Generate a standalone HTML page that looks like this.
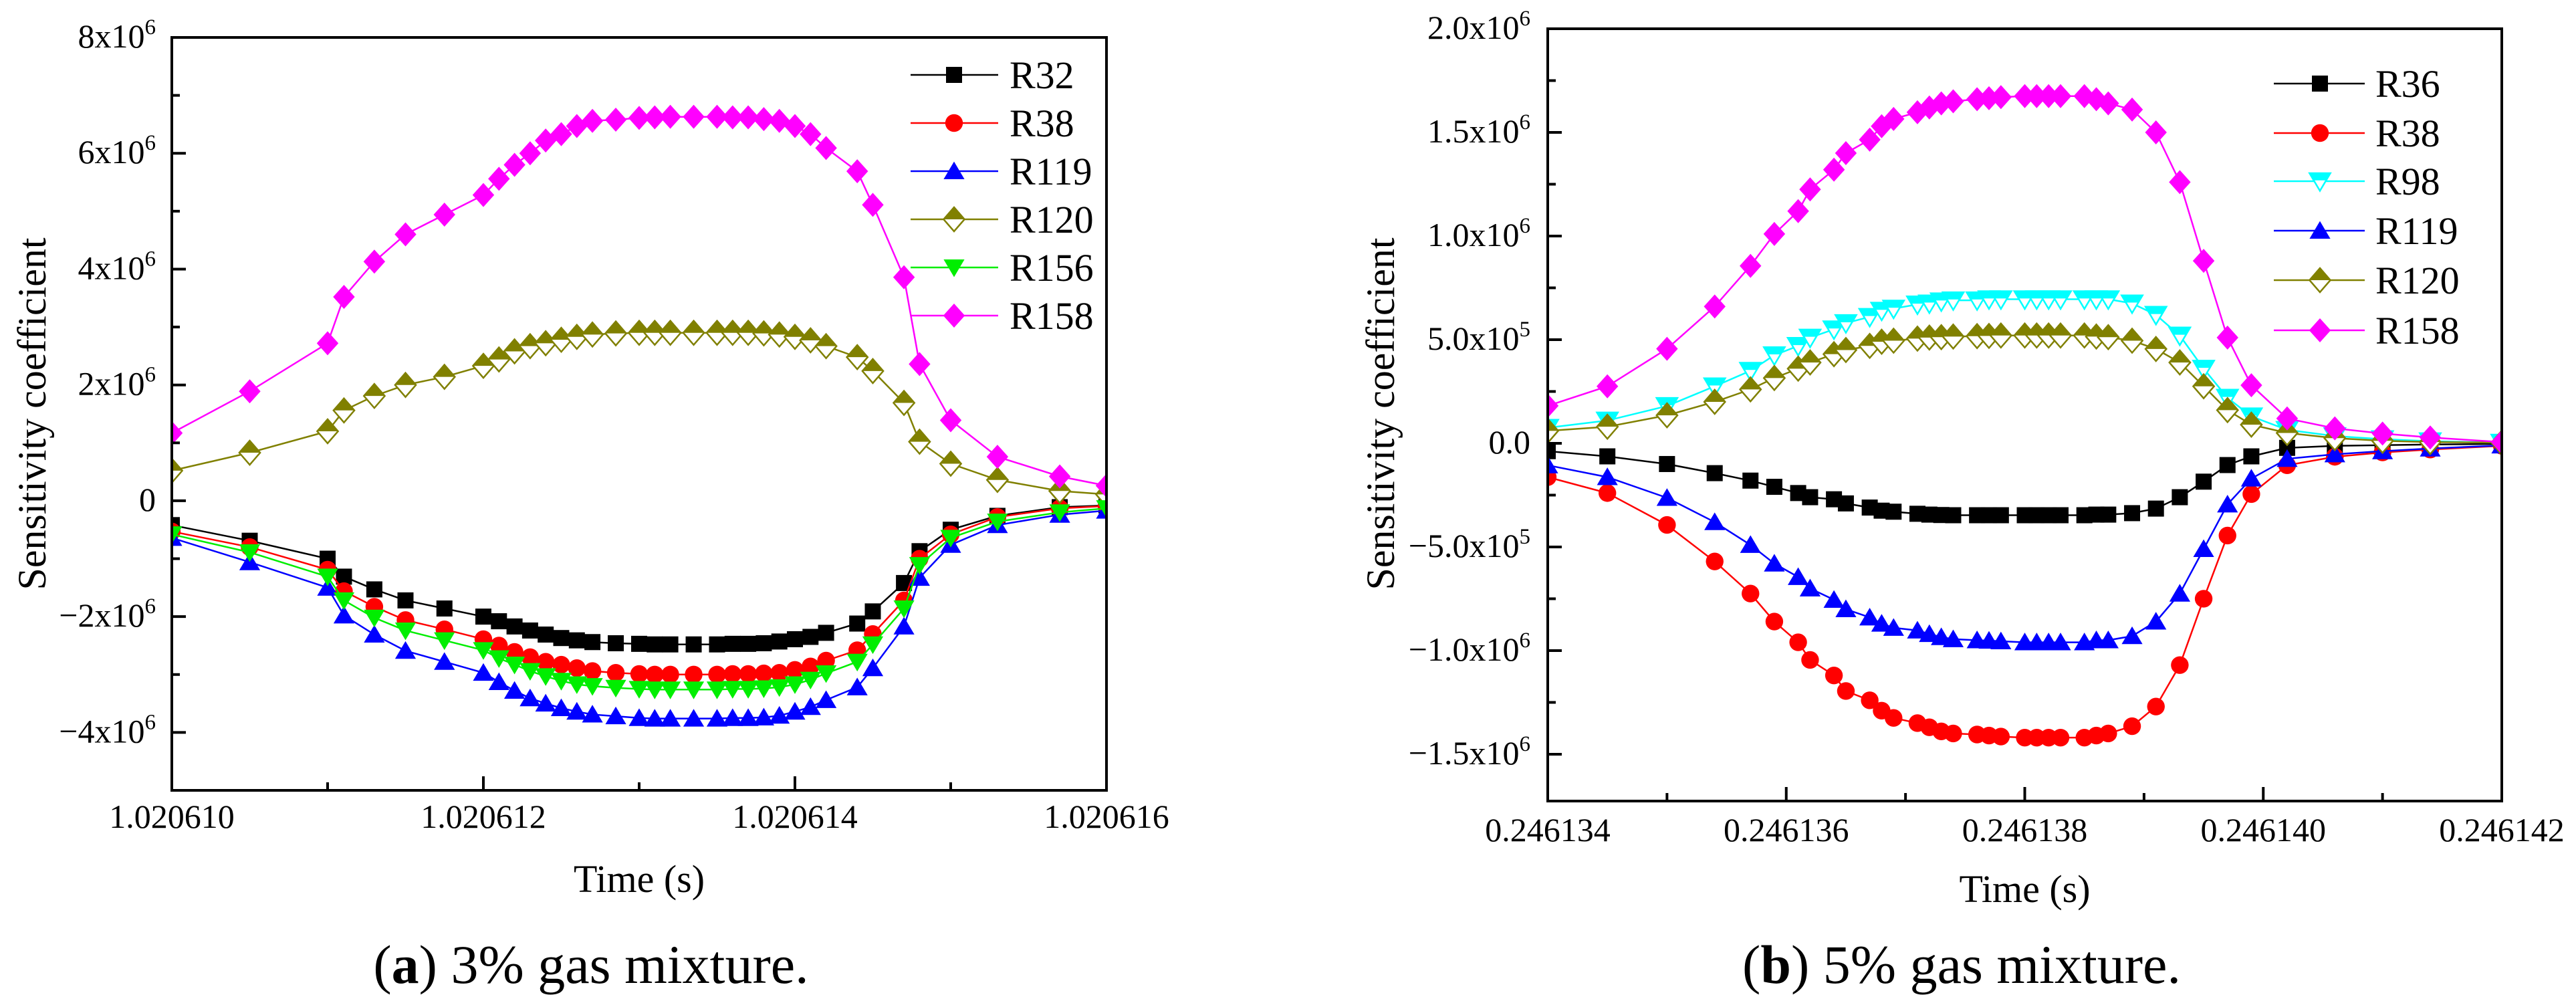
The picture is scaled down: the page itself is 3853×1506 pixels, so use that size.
<!DOCTYPE html>
<html><head><meta charset="utf-8"><style>
html,body{margin:0;padding:0;background:#fff;width:3853px;height:1506px;overflow:hidden}
svg{display:block}
text,tspan{font-family:"Liberation Serif","Times New Roman",serif;fill:#000}
</style></head><body>
<svg id="fig" width="3853" height="1506" viewBox="0 0 3853 1506" font-family="Liberation Serif, serif"></svg>
<script>
// ---------- Panel (a) data: time offset in 1e-6 s from 1.020610, values in 1e6 ----------
const timeA = [0,0.5,1.0,1.105,1.3,1.5,1.75,2.0,2.1,2.2,2.3,2.4,2.5,2.6,2.7,2.85,3.0,3.1,3.2,3.35,3.5,3.6,3.7,3.8,3.9,4.0,4.1,4.2,4.4,4.5,4.7,4.8,5.0,5.3,5.7,6.0];
const r32A  = [-0.42,-0.69,-1.0,-1.31,-1.53,-1.72,-1.86,-2.0,-2.08,-2.17,-2.24,-2.31,-2.37,-2.41,-2.44,-2.46,-2.47,-2.48,-2.48,-2.48,-2.48,-2.47,-2.47,-2.46,-2.43,-2.39,-2.35,-2.28,-2.12,-1.91,-1.42,-0.87,-0.5,-0.26,-0.11,-0.08];
const r38A  = [-0.53,-0.8,-1.19,-1.56,-1.83,-2.06,-2.22,-2.39,-2.5,-2.61,-2.7,-2.78,-2.83,-2.89,-2.94,-2.97,-2.99,-3.0,-3.0,-3.0,-3.0,-2.99,-2.99,-2.98,-2.97,-2.92,-2.86,-2.76,-2.58,-2.3,-1.72,-1.0,-0.58,-0.28,-0.13,-0.09];
const r119A = [-0.64,-1.06,-1.5,-1.98,-2.31,-2.59,-2.78,-2.97,-3.13,-3.28,-3.41,-3.5,-3.58,-3.64,-3.69,-3.72,-3.75,-3.76,-3.76,-3.76,-3.76,-3.75,-3.75,-3.74,-3.71,-3.64,-3.56,-3.44,-3.22,-2.89,-2.17,-1.33,-0.76,-0.42,-0.24,-0.17];
const r120A = [0.52,0.83,1.2,1.56,1.81,2.0,2.14,2.33,2.44,2.58,2.67,2.72,2.78,2.83,2.87,2.89,2.9,2.9,2.9,2.9,2.9,2.9,2.9,2.89,2.87,2.83,2.77,2.67,2.48,2.24,1.69,1.02,0.64,0.36,0.17,0.11];
const r156A = [-0.58,-0.89,-1.31,-1.72,-2.02,-2.24,-2.41,-2.58,-2.72,-2.83,-2.94,-3.03,-3.11,-3.17,-3.2,-3.23,-3.25,-3.26,-3.26,-3.26,-3.26,-3.25,-3.25,-3.24,-3.22,-3.17,-3.09,-2.98,-2.78,-2.48,-1.86,-1.11,-0.64,-0.36,-0.2,-0.13];
const r158A = [1.17,1.89,2.72,3.52,4.13,4.6,4.94,5.28,5.56,5.8,6.0,6.22,6.33,6.47,6.56,6.58,6.61,6.62,6.63,6.63,6.63,6.62,6.62,6.59,6.56,6.47,6.33,6.09,5.69,5.11,3.86,2.36,1.39,0.76,0.42,0.26];
const yTicksA = [8,6,4,2,0,-2,-4];
const xTicksA = ["1.020610","1.020612","1.020614","1.020616"];

// ---------- Panel (b) data: time offset in 1e-6 s from 0.246134, values in 1e5 ----------
const timeB = [0,0.5,1.0,1.4,1.7,1.9,2.1,2.2,2.4,2.5,2.7,2.8,2.9,3.1,3.2,3.3,3.4,3.6,3.7,3.8,4.0,4.1,4.2,4.3,4.5,4.6,4.7,4.9,5.1,5.3,5.5,5.7,5.9,6.2,6.6,7.0,7.4,8.0];
const r36B  = [-0.38,-0.63,-1.0,-1.44,-1.8,-2.1,-2.4,-2.6,-2.7,-2.9,-3.1,-3.25,-3.3,-3.4,-3.44,-3.46,-3.47,-3.47,-3.47,-3.47,-3.47,-3.47,-3.47,-3.47,-3.47,-3.44,-3.44,-3.37,-3.15,-2.6,-1.85,-1.05,-0.63,-0.22,-0.12,-0.09,-0.06,-0.03];
const r38B  = [-1.63,-2.4,-3.94,-5.7,-7.25,-8.6,-9.6,-10.45,-11.2,-11.95,-12.4,-12.9,-13.25,-13.5,-13.7,-13.9,-14.0,-14.05,-14.1,-14.15,-14.2,-14.2,-14.2,-14.2,-14.2,-14.1,-14.0,-13.65,-12.7,-10.7,-7.5,-4.45,-2.45,-1.06,-0.65,-0.44,-0.3,-0.12];
const r98B  = [0.75,1.1,1.8,2.75,3.5,4.25,4.7,5.1,5.5,5.8,6.1,6.4,6.5,6.7,6.75,6.85,6.9,6.9,6.95,6.95,6.95,6.95,6.95,6.95,6.95,6.95,6.95,6.75,6.2,5.2,3.6,2.2,1.3,0.65,0.35,0.2,0.1,0.03];
const r119B = [-1.06,-1.63,-2.63,-3.8,-4.9,-5.8,-6.45,-7.0,-7.55,-8.0,-8.4,-8.7,-8.9,-9.03,-9.2,-9.35,-9.45,-9.5,-9.52,-9.55,-9.6,-9.6,-9.6,-9.6,-9.6,-9.5,-9.5,-9.3,-8.6,-7.25,-5.1,-2.95,-1.7,-0.75,-0.53,-0.38,-0.25,-0.1];
const r120B = [0.6,0.8,1.35,2.0,2.6,3.15,3.6,3.9,4.3,4.5,4.7,4.9,4.95,5.05,5.1,5.12,5.15,5.17,5.18,5.2,5.2,5.2,5.2,5.2,5.2,5.15,5.12,4.95,4.55,3.9,2.75,1.6,0.9,0.5,0.25,0.12,0.06,0.03];
const r158B = [1.81,2.75,4.56,6.6,8.56,10.1,11.2,12.25,13.2,14.0,14.65,15.3,15.65,15.97,16.2,16.4,16.5,16.6,16.65,16.7,16.75,16.75,16.75,16.75,16.75,16.6,16.4,16.1,15.0,12.6,8.8,5.1,2.8,1.2,0.72,0.47,0.28,0.06];
const yTicksB = [20,15,10,5,0,-5,-10,-15];
const yTickLabelsB = ["2.0x10|6","1.5x10|6","1.0x10|6","5.0x10|5","0.0","−5.0x10|5","−1.0x10|6","−1.5x10|6"];
const xTicksB = ["0.246134","0.246136","0.246138","0.246140","0.246142"];

const NS = "http://www.w3.org/2000/svg";
const fig = document.getElementById('fig');
const defs = document.createElementNS(NS,'defs');
fig.appendChild(defs);
function mk(tag, attrs, parent){
  const e = document.createElementNS(NS, tag);
  for (const k in attrs) e.setAttribute(k, attrs[k]);
  (parent||fig).appendChild(e);
  return e;
}

function marker(g, shape, color, cx, cy, s){
  let e;
  if (shape==='square'){
    e = mk('rect',{x:cx-s,y:cy-s,width:2*s,height:2*s,fill:color},g);
  } else if (shape==='circle'){
    e = mk('circle',{cx:cx,cy:cy,r:s*1.1,fill:color},g);
  } else if (shape==='up'){
    e = mk('polygon',{points:`${cx},${cy-s*1.2} ${cx+s*1.3},${cy+s*1.0} ${cx-s*1.3},${cy+s*1.0}`,fill:color},g);
  } else if (shape==='down'){
    e = mk('polygon',{points:`${cx},${cy+s*1.2} ${cx+s*1.3},${cy-s*1.0} ${cx-s*1.3},${cy-s*1.0}`,fill:color},g);
  } else if (shape==='diamond'){
    e = mk('polygon',{points:`${cx},${cy-s*1.5} ${cx+s*1.35},${cy} ${cx},${cy+s*1.5} ${cx-s*1.35},${cy}`,fill:color},g);
  } else if (shape==='halfdiamond'){
    e = mk('polygon',{points:`${cx},${cy-s*1.5} ${cx+s*1.3},${cy} ${cx},${cy+s*1.5} ${cx-s*1.3},${cy}`,fill:'#fff',stroke:color,'stroke-width':2.5},g);
    mk('polygon',{points:`${cx},${cy-s*1.5} ${cx+s*1.3},${cy} ${cx-s*1.3},${cy}`,fill:color},g);
  } else if (shape==='halfdown'){
    e = mk('polygon',{points:`${cx},${cy+s*1.2} ${cx+s*1.3},${cy-s*1.0} ${cx-s*1.3},${cy-s*1.0}`,fill:'#fff',stroke:color,'stroke-width':2.5},g);
    mk('polygon',{points:`${cx+s*1.3},${cy-s*1.0} ${cx-s*1.3},${cy-s*1.0} ${cx-s*0.75},${cy-s*0.1} ${cx+s*0.75},${cy-s*0.1}`,fill:color},g);
  }
  return e;
}

function drawPanel(cfg){
  const P = mk('g',{});
  
  
  const X = t => cfg.x0 + (t - cfg.tmin)/(cfg.tmax-cfg.tmin)*(cfg.x1-cfg.x0);
  const Y = v => cfg.y1 - (v - cfg.vmin)/(cfg.vmax-cfg.vmin)*(cfg.y1-cfg.y0);

  const cp = mk('clipPath',{id:'clip-'+cfg.name},defs);
  mk('rect',{x:cfg.x0-2,y:cfg.y0-20,width:cfg.x1-cfg.x0+4,height:cfg.y1-cfg.y0+22},cp);
  const D = mk('g',{'clip-path':'url(#clip-'+cfg.name+')'},P);

  // series
  cfg.series.forEach(s=>{
    const g = mk('g',{},D);
    
    
    const pts = cfg.time.map((t,i)=>X(t).toFixed(1)+','+Y(s.vals[i]).toFixed(1)).join(' ');
    const ln = mk('polyline',{points:pts,fill:'none',stroke:s.color,'stroke-width':2.5},g);
    
    
    cfg.time.forEach((t,i)=>{
      const m = marker(g, s.shape, s.color, X(t), Y(s.vals[i]), 12);
      
      
    });
  });

  // axes frame
  const fr = mk('rect',{x:cfg.x0,y:cfg.y0,width:cfg.x1-cfg.x0,height:cfg.y1-cfg.y0,fill:'none',stroke:'#000','stroke-width':4},P);
  
  

  // y ticks
  cfg.yMinor.forEach(v=>{ mk('line',{x1:cfg.x0,x2:cfg.x0+12,y1:Y(v),y2:Y(v),stroke:'#000','stroke-width':4},P); });
  cfg.yTicks.forEach((v,i)=>{
    mk('line',{x1:cfg.x0,x2:cfg.x0+21,y1:Y(v),y2:Y(v),stroke:'#000','stroke-width':4},P);
    const lab = cfg.yLabels[i];
    const tx = mk('text',{x:cfg.yLabelX,y:Y(v)+15,'text-anchor':'end','font-size':50},P);
    
    
    const parts = lab.split('|');
    tx.appendChild(document.createTextNode(parts[0]));
    if (parts[1]){
      const sp = mk('tspan',{dy:-20,'font-size':33},tx);
      sp.textContent = parts[1];
    }
  });
  // x ticks
  cfg.xMinor.forEach(t=>{ mk('line',{x1:X(t),x2:X(t),y1:cfg.y1,y2:cfg.y1-12,stroke:'#000','stroke-width':4},P); });
  cfg.xTickLabels.forEach((lab,i)=>{
    const t = cfg.xMajor[i];
    mk('line',{x1:X(t),x2:X(t),y1:cfg.y1,y2:cfg.y1-21,stroke:'#000','stroke-width':4},P);
    const tx = mk('text',{x:X(t),y:cfg.xLabelY,'text-anchor':'middle','font-size':50},P);
    
    
    tx.textContent = lab;
  });
  // axis titles
  const xt = mk('text',{x:(cfg.x0+cfg.x1)/2,y:cfg.xTitleY,'text-anchor':'middle','font-size':58},P);
  
  
  xt.textContent = 'Time (s)';
  const yt = mk('text',{x:0,y:0,'text-anchor':'middle','font-size':60,transform:`translate(${cfg.yTitleX},${cfg.yTitleY}) rotate(-90)`},P);
  
  
  yt.textContent = 'Sensitivity coefficient';

  // legend
  const L = mk('g',{},P);
  
  
  cfg.series.forEach((s,i)=>{
    const y = cfg.leg.y[i];
    const e = mk('g',{},L);
    
    
    mk('line',{x1:cfg.leg.x1,x2:cfg.leg.x2,y1:y,y2:y,stroke:s.color,'stroke-width':2.5},e);
    marker(e, s.shape, s.color, cfg.leg.mx, y, 12);
    const tx = mk('text',{x:cfg.leg.tx,y:y+20,'font-size':58},e);
    tx.textContent = s.label;
  });

  // caption
  const cap = mk('text',{x:cfg.capX,y:1470,'text-anchor':'middle','font-size':82},P);
  
  
  cap.appendChild(document.createTextNode('('));
  const b = mk('tspan',{'font-weight':'bold'},cap); b.textContent = cfg.capLetter;
  cap.appendChild(document.createTextNode(') ' + cfg.capText));
}

drawPanel({
  name:'panel-a-3pct', x0:257, x1:1655, y0:56, y1:1182, tmin:0, tmax:6, vmin:-5, vmax:8,
  time:timeA,
  series:[
    {label:'R32',color:'#000000',shape:'square',vals:r32A},
    {label:'R38',color:'#ff0000',shape:'circle',vals:r38A},
    {label:'R119',color:'#0000ff',shape:'up',vals:r119A},
    {label:'R120',color:'#808000',shape:'halfdiamond',vals:r120A},
    {label:'R156',color:'#00ee00',shape:'down',vals:r156A},
    {label:'R158',color:'#ff00ff',shape:'diamond',vals:r158A}
  ],
  yTicks:yTicksA, yLabels:yTicksA.map(v=> v===0?'0':(v<0?'−':'')+Math.abs(v)+'x10|6'),
  yMinor:[7,5,3,1,-1,-3,-5], yLabelX:233,
  xMajor:[0,2,4,6], xTickLabels:xTicksA, xMinor:[1,3,5], xLabelY:1238,
  xTitleY:1334, yTitleX:68, yTitleY:619,
  leg:{x1:1362,x2:1493,mx:1427,tx:1510,y:[112,184,256,328,400,472]},
  capX:884, capLetter:'a', capText:'3% gas mixture.'
});

drawPanel({
  name:'panel-b-5pct', x0:2315, x1:3742, y0:43, y1:1198, tmin:0, tmax:8, vmin:-17.26, vmax:20,
  time:timeB,
  series:[
    {label:'R36',color:'#000000',shape:'square',vals:r36B},
    {label:'R38',color:'#ff0000',shape:'circle',vals:r38B},
    {label:'R98',color:'#00ffff',shape:'halfdown',vals:r98B},
    {label:'R119',color:'#0000ff',shape:'up',vals:r119B},
    {label:'R120',color:'#808000',shape:'halfdiamond',vals:r120B},
    {label:'R158',color:'#ff00ff',shape:'diamond',vals:r158B}
  ],
  yTicks:yTicksB, yLabels:yTickLabelsB,
  yMinor:[17.5,12.5,7.5,2.5,-2.5,-7.5,-12.5], yLabelX:2289,
  xMajor:[0,2,4,6,8], xTickLabels:xTicksB, xMinor:[1,3,5,7], xLabelY:1258,
  xTitleY:1349, yTitleX:2085, yTitleY:619,
  leg:{x1:3401,x2:3537,mx:3470,tx:3553,y:[125,199,271,345,419,494]},
  capX:2934, capLetter:'b', capText:'5% gas mixture.'
});
</script>
</body></html>
